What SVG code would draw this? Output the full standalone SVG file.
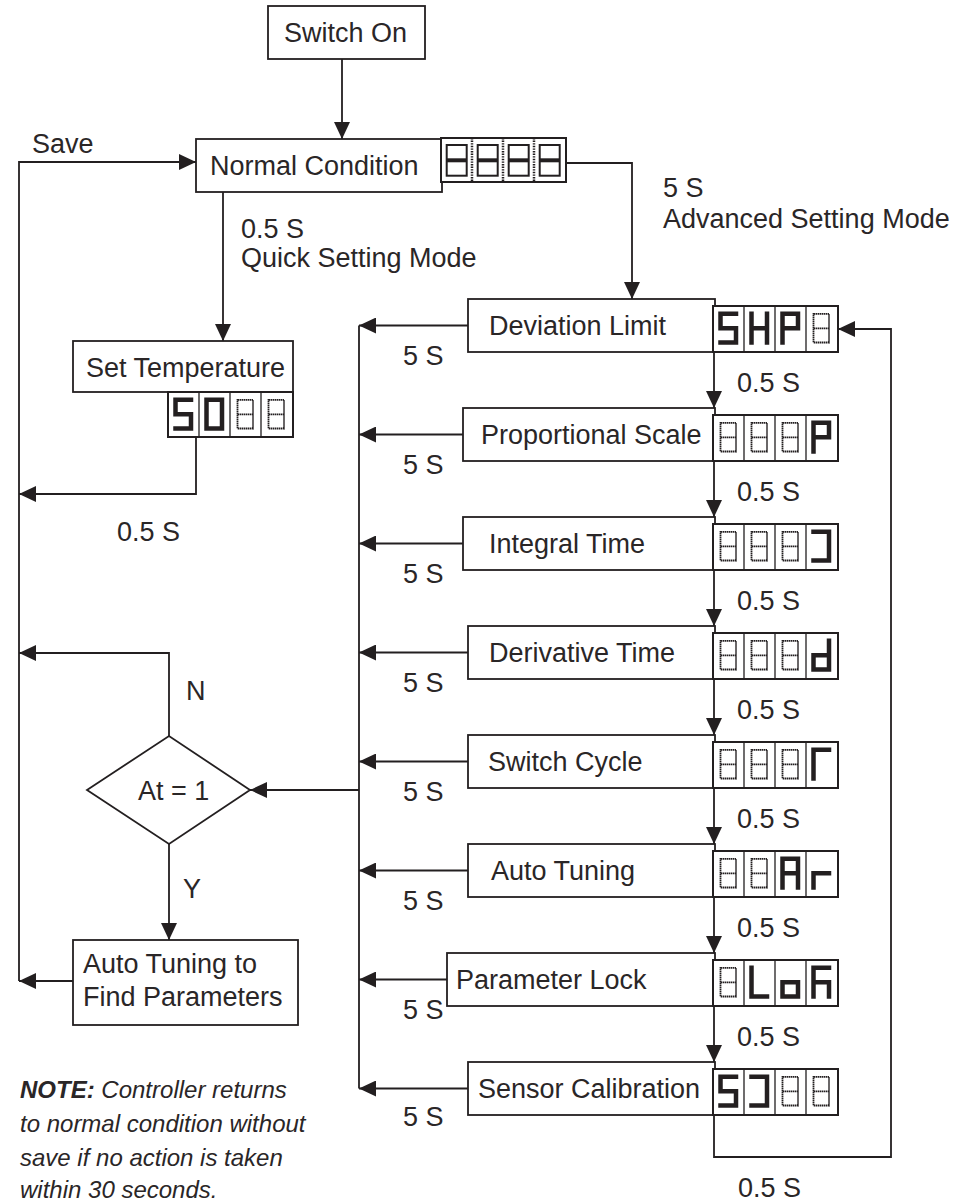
<svg xmlns="http://www.w3.org/2000/svg" width="974" height="1202" viewBox="0 0 974 1202">
<style>
.t{font-family:"Liberation Sans",Arial,sans-serif;font-size:27px;fill:#2a2627}
.note{font-family:"Liberation Sans",Arial,sans-serif;font-size:24px;font-style:italic;fill:#2a2627}
.box{fill:#fff;stroke:#231f20;stroke-width:1.8}
.disp{fill:#fff;stroke:#231f20;stroke-width:2}
.div{fill:none;stroke:#231f20;stroke-width:1.3}
.ddiv{fill:none;stroke:#231f20;stroke-width:2.5;stroke-dasharray:1.4 1.2}
.lit{fill:none;stroke:#231f20;stroke-width:4.5;stroke-linecap:square;stroke-linejoin:miter}
.off{fill:none;stroke:#231f20;stroke-width:1.8;stroke-dasharray:1.5 0.5}
.c{fill:none;stroke:#231f20;stroke-width:1.8}
</style>
<defs>
<marker id="ah" markerUnits="userSpaceOnUse" markerWidth="17" markerHeight="16" viewBox="0 0 17 16" refX="17" refY="8" orient="auto"><path d="M0 0L17 8L0 16Z" fill="#231f20"/></marker>
<g id="g8"><rect class="off" x="7.5" y="7.8" width="15.5" height="28.7"/><path class="off" d="M7.5 22.3H23"/></g>
<path id="g5" class="lit" d="M23 7.8H7.5V22.3H23V36.5H7.5"/>
<path id="gH" class="lit" d="M7.5 7.8V36.5M23 7.8V36.5M7.5 22.3H23"/>
<path id="gP" class="lit" d="M7.5 36.5V7.8H23V22.3H7.5"/>
<path id="g0" class="lit" d="M7.5 7.8H23V36.5H7.5Z"/>
<path id="gJ" class="lit" d="M7.5 7.8H23V36.5H7.5"/>
<path id="gd" class="lit" d="M23 7.8V36.5H7.5V22.3H23"/>
<path id="gG" class="lit" d="M23 7.8H7.5V36.5"/>
<path id="gA" class="lit" d="M7.5 36.5V7.8H23V36.5M7.5 22.3H23"/>
<path id="gr" class="lit" d="M7.5 36.5V22.3H23"/>
<path id="gL" class="lit" d="M7.5 7.8V36.5H23"/>
<path id="go" class="lit" d="M7.5 22.3H23V36.5H7.5Z"/>
<path id="gk" class="lit" d="M7.5 36.5V7.8H23M7.5 22.3H23V36.5"/>
<g id="n8"><rect fill="none" stroke="#231f20" stroke-width="2" x="5.7" y="7" width="20" height="30.7"/><path fill="none" stroke="#231f20" stroke-width="4" d="M5.7 22.3H25.7"/></g>
</defs>

<g id="connectors">
<path class="c" d="M342 59V139" marker-end="url(#ah)"/>
<path class="c" d="M19 981V162H196" marker-end="url(#ah)"/>
<path class="c" d="M223 192V341" marker-end="url(#ah)"/>
<path class="c" d="M196 437V494H19" marker-end="url(#ah)"/>
<path class="c" d="M566 163H632V299" marker-end="url(#ah)"/>
<path class="c" d="M169 736V653H19" marker-end="url(#ah)"/>
<path class="c" d="M169 844V940" marker-end="url(#ah)"/>
<path class="c" d="M73 981H19" marker-end="url(#ah)"/>
<path class="c" d="M359 325.5V1088.5"/>
<path class="c" d="M359 790H250" marker-end="url(#ah)"/>
<path class="c" d="M468 325.5H359" marker-end="url(#ah)"/>
<path class="c" d="M463 434.5H359" marker-end="url(#ah)"/>
<path class="c" d="M463 543.5H359" marker-end="url(#ah)"/>
<path class="c" d="M468 652.5H359" marker-end="url(#ah)"/>
<path class="c" d="M468 761.5H359" marker-end="url(#ah)"/>
<path class="c" d="M468 870.5H359" marker-end="url(#ah)"/>
<path class="c" d="M447 979.5H359" marker-end="url(#ah)"/>
<path class="c" d="M468 1088.5H359" marker-end="url(#ah)"/>
<path class="c" d="M714 352V408" marker-end="url(#ah)"/>
<path class="c" d="M714 461V517" marker-end="url(#ah)"/>
<path class="c" d="M714 570V626" marker-end="url(#ah)"/>
<path class="c" d="M714 679V735" marker-end="url(#ah)"/>
<path class="c" d="M714 788V844" marker-end="url(#ah)"/>
<path class="c" d="M714 897V953" marker-end="url(#ah)"/>
<path class="c" d="M714 1006V1062" marker-end="url(#ah)"/>
<path class="c" d="M714 1115V1157H891V329H838" marker-end="url(#ah)"/>
</g>

<g id="labels">
<text class="t" x="32" y="153">Save</text>
<text class="t" x="241" y="238">0.5 S</text>
<text class="t" x="241" y="267">Quick Setting Mode</text>
<text class="t" x="117" y="541">0.5 S</text>
<text class="t" x="663" y="197">5 S</text>
<text class="t" x="663" y="228">Advanced Setting Mode</text>
<text class="t" x="186" y="700">N</text>
<text class="t" x="183" y="898">Y</text>
<text class="t" x="403" y="365">5 S</text>
<text class="t" x="403" y="474">5 S</text>
<text class="t" x="403" y="583">5 S</text>
<text class="t" x="403" y="692">5 S</text>
<text class="t" x="403" y="801">5 S</text>
<text class="t" x="403" y="910">5 S</text>
<text class="t" x="403" y="1019">5 S</text>
<text class="t" x="403" y="1126">5 S</text>
<text class="t" x="737" y="392">0.5 S</text>
<text class="t" x="737" y="501">0.5 S</text>
<text class="t" x="737" y="610">0.5 S</text>
<text class="t" x="737" y="719">0.5 S</text>
<text class="t" x="737" y="828">0.5 S</text>
<text class="t" x="737" y="937">0.5 S</text>
<text class="t" x="737" y="1046">0.5 S</text>
<text class="t" x="738" y="1197">0.5 S</text>
</g>

<g id="switch-on"><rect class="box" x="268" y="6" width="157" height="53"/><text class="t" x="284" y="42">Switch On</text></g>

<g id="normal-condition"><rect class="box" x="196" y="139" width="246" height="53"/><text class="t" x="210" y="175">Normal Condition</text>
<g transform="translate(441,138)"><rect class="disp" width="125" height="44"/><path class="ddiv" d="M31 0V44M62 0V44M93 0V44"/><use href="#n8"/><use href="#n8" x="31"/><use href="#n8" x="62"/><use href="#n8" x="93"/></g></g>

<g id="set-temperature"><rect class="box" x="73" y="341" width="220" height="51"/><text class="t" x="86" y="377">Set Temperature</text>
<g transform="translate(168,392)"><rect class="disp" width="125" height="45"/><path class="div" d="M31 0V45M62 0V45M93 0V45"/><use href="#g5"/><use href="#g0" x="31"/><use href="#g8" x="62"/><use href="#g8" x="93"/></g></g>

<g id="at-decision"><polygon class="box" points="87,790 169,736 250,790 169,844"/><text class="t" x="138" y="800">At = 1</text></g>

<g id="auto-tuning-find"><rect class="box" x="73" y="940" width="225" height="85"/><text class="t" x="83" y="973">Auto Tuning to</text><text class="t" x="83" y="1006">Find Parameters</text></g>

<g id="deviation-limit"><rect class="box" x="468" y="299" width="247" height="53"/><text class="t" x="489" y="335">Deviation Limit</text>
<g transform="translate(713,306)"><rect class="disp" width="125" height="46"/><path class="div" d="M31 0V46M62 0V46M93 0V46"/><use href="#g5"/><use href="#gH" x="31"/><use href="#gP" x="62"/><use href="#g8" x="93"/></g></g>

<g id="proportional-scale"><rect class="box" x="463" y="408" width="252" height="53"/><text class="t" x="481" y="444">Proportional Scale</text>
<g transform="translate(713,415)"><rect class="disp" width="125" height="46"/><path class="div" d="M31 0V46M62 0V46M93 0V46"/><use href="#g8"/><use href="#g8" x="31"/><use href="#g8" x="62"/><use href="#gP" x="93"/></g></g>

<g id="integral-time"><rect class="box" x="463" y="517" width="252" height="53"/><text class="t" x="489" y="553">Integral Time</text>
<g transform="translate(713,524)"><rect class="disp" width="125" height="46"/><path class="div" d="M31 0V46M62 0V46M93 0V46"/><use href="#g8"/><use href="#g8" x="31"/><use href="#g8" x="62"/><use href="#gJ" x="93"/></g></g>

<g id="derivative-time"><rect class="box" x="468" y="626" width="247" height="53"/><text class="t" x="489" y="662">Derivative Time</text>
<g transform="translate(713,633)"><rect class="disp" width="125" height="46"/><path class="div" d="M31 0V46M62 0V46M93 0V46"/><use href="#g8"/><use href="#g8" x="31"/><use href="#g8" x="62"/><use href="#gd" x="93"/></g></g>

<g id="switch-cycle"><rect class="box" x="468" y="735" width="247" height="53"/><text class="t" x="488" y="771">Switch Cycle</text>
<g transform="translate(713,742)"><rect class="disp" width="125" height="46"/><path class="div" d="M31 0V46M62 0V46M93 0V46"/><use href="#g8"/><use href="#g8" x="31"/><use href="#g8" x="62"/><use href="#gG" x="93"/></g></g>

<g id="auto-tuning"><rect class="box" x="468" y="844" width="247" height="53"/><text class="t" x="491" y="880">Auto Tuning</text>
<g transform="translate(713,851)"><rect class="disp" width="125" height="46"/><path class="div" d="M31 0V46M62 0V46M93 0V46"/><use href="#g8"/><use href="#g8" x="31"/><use href="#gA" x="62"/><use href="#gr" x="93"/></g></g>

<g id="parameter-lock"><rect class="box" x="447" y="953" width="268" height="53"/><text class="t" x="456" y="989">Parameter Lock</text>
<g transform="translate(713,960)"><rect class="disp" width="125" height="46"/><path class="div" d="M31 0V46M62 0V46M93 0V46"/><use href="#g8"/><use href="#gL" x="31"/><use href="#go" x="62"/><use href="#gk" x="93"/></g></g>

<g id="sensor-calibration"><rect class="box" x="468" y="1062" width="247" height="53"/><text class="t" x="478" y="1098">Sensor Calibration</text>
<g transform="translate(713,1069)"><rect class="disp" width="125" height="46"/><path class="div" d="M31 0V46M62 0V46M93 0V46"/><use href="#g5"/><use href="#gJ" x="31"/><use href="#g8" x="62"/><use href="#g8" x="93"/></g></g>

<g id="note">
<text class="note" x="20" y="1098"><tspan font-weight="bold">NOTE:</tspan> Controller returns</text>
<text class="note" x="20" y="1132">to normal condition without</text>
<text class="note" x="20" y="1166">save if no action is taken</text>
<text class="note" x="20" y="1198">within 30 seconds.</text>
</g>
</svg>
